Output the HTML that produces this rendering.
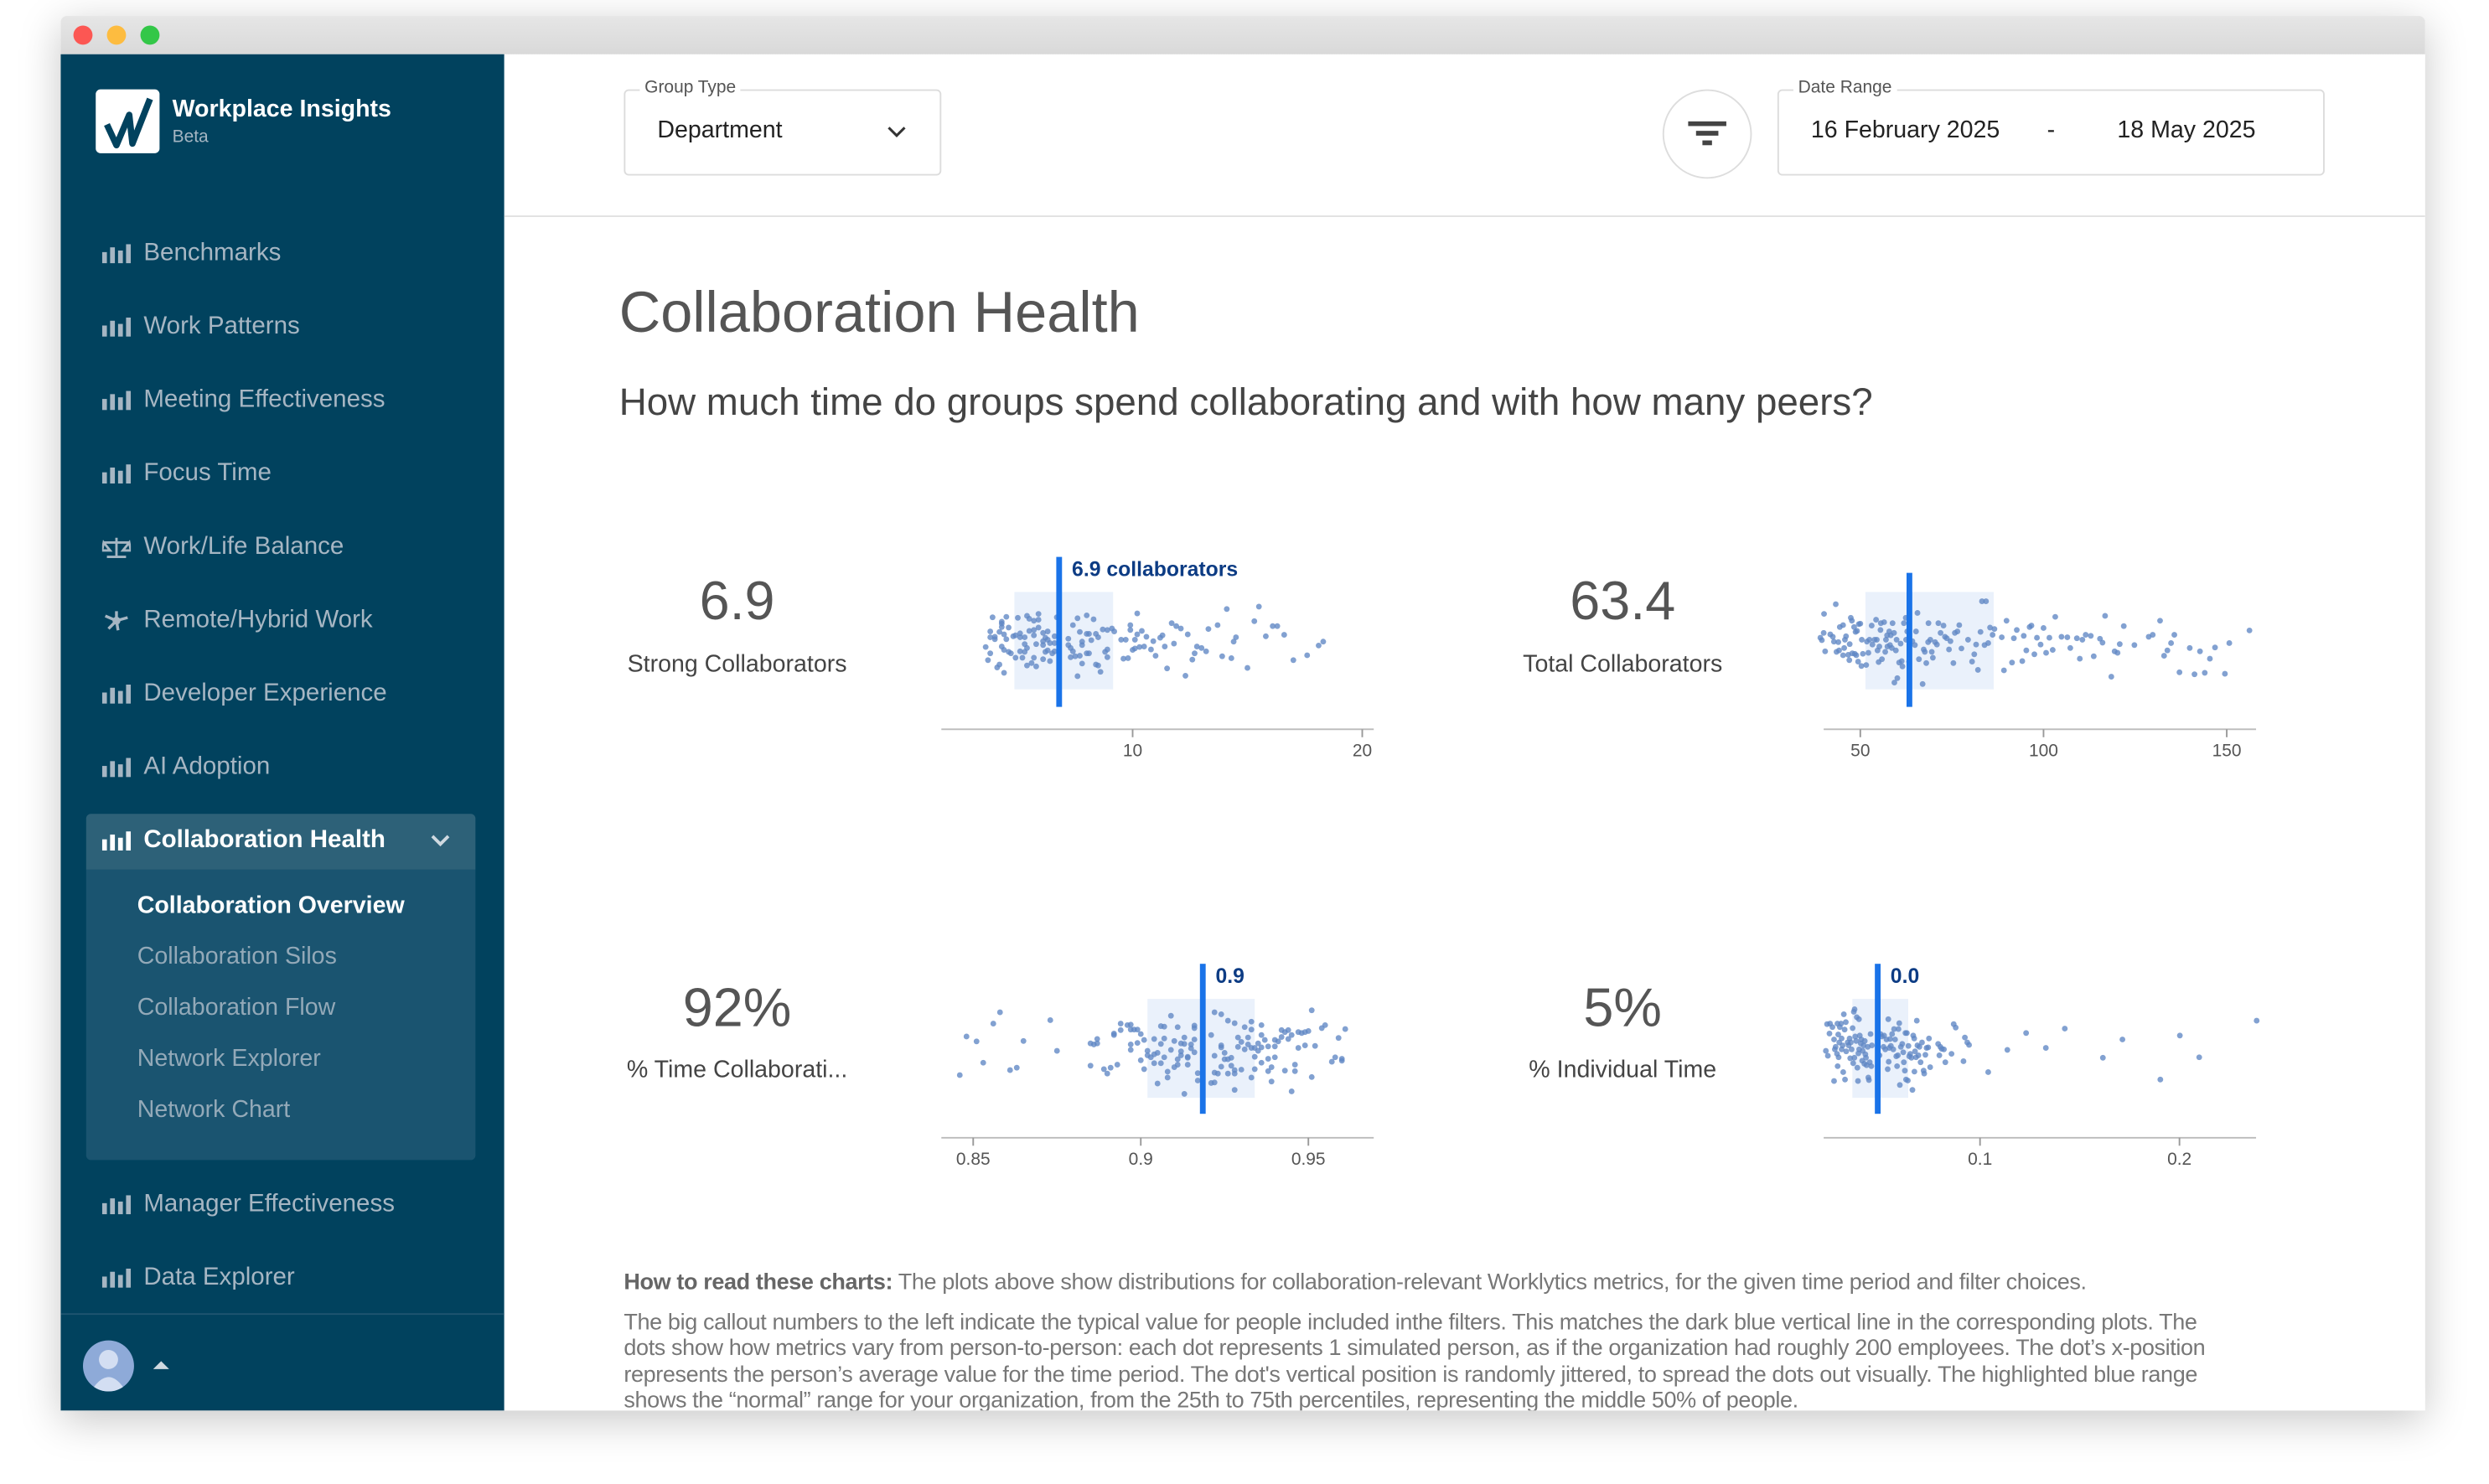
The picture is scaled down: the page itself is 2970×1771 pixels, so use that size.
<!DOCTYPE html>
<html><head><meta charset="utf-8">
<style>
html,body{margin:0;padding:0;background:#fff;}
body{width:2970px;height:1771px;overflow:hidden;position:relative;font-family:"Liberation Sans",Arial,sans-serif;}
#stage{position:absolute;left:0;top:0;width:1560px;height:930px;transform:scale(1.90385,1.90430);transform-origin:0 0;}
#win{position:absolute;left:38px;top:10px;width:1482px;height:874px;background:#fff;box-shadow:0 6px 26px rgba(0,0,0,0.22);border-radius:4px 4px 0 0;overflow:hidden;}
#titlebar{position:absolute;left:0;top:0;width:1482px;height:24px;background:linear-gradient(#e6e6e6,#d9d9d9);}
.tl{position:absolute;top:6px;width:12px;height:12px;border-radius:50%;}
#sidebar{position:absolute;left:0;top:24px;width:278px;height:850px;background:#01425e;}
.nav{position:absolute;left:26px;height:20px;font-size:15.5px;color:#a6b6c3;white-space:nowrap;display:flex;align-items:center;}
.nav svg{margin-right:8px;}
.sub{position:absolute;left:48px;font-size:15px;color:#93a9b8;white-space:nowrap;}
#main{position:absolute;left:278px;top:24px;width:1204px;height:850px;overflow:hidden;}
.box{position:absolute;border:1px solid #dcdcdc;border-radius:3px;}
.lbl{position:absolute;top:-8px;background:#fff;padding:0 3px;font-size:11px;color:#555;}
.big{position:absolute;font-size:34px;color:#555;text-align:center;width:200px;}
.cap{position:absolute;font-size:15px;color:#444;text-align:center;width:200px;white-space:nowrap;}
#help{position:absolute;left:75px;top:762px;font-size:14.2px;color:#777;white-space:nowrap;letter-spacing:-0.2px;}
#help p{margin:0;line-height:16.6px;}
</style></head>
<body>
<div id="stage">
<div id="win">
  <div id="titlebar">
    <div class="tl" style="left:8px;background:#fc5753;"></div>
    <div class="tl" style="left:29px;background:#fdbc40;"></div>
    <div class="tl" style="left:50px;background:#33c748;"></div>
  </div>
  <div id="sidebar">
    <div style="position:absolute;left:22px;top:22px;width:40px;height:40px;background:#fff;border-radius:3px;">
      <svg width="40" height="40" viewBox="0 0 40 40"><path d="M7 22 L13 35 L21 16 L23 34 L34 6" fill="none" stroke="#01425e" stroke-width="4" stroke-linejoin="round"/></svg>
    </div>
    <div style="position:absolute;left:70px;top:26px;font-size:15px;font-weight:bold;color:#fff;">Workplace Insights</div>
    <div style="position:absolute;left:70px;top:46px;font-size:11px;color:#a6b6c3;">Beta</div>

    <div class="nav" style="top:115px;"><svg width="18" height="12"><rect x="0" y="5" width="3" height="7" fill="#a6b6c3"/><rect x="5" y="2" width="3" height="10" fill="#a6b6c3"/><rect x="10" y="4" width="3" height="8" fill="#a6b6c3"/><rect x="15" y="0" width="3" height="12" fill="#a6b6c3"/></svg>Benchmarks</div>
    <div class="nav" style="top:161px;"><svg width="18" height="12"><rect x="0" y="5" width="3" height="7" fill="#a6b6c3"/><rect x="5" y="2" width="3" height="10" fill="#a6b6c3"/><rect x="10" y="4" width="3" height="8" fill="#a6b6c3"/><rect x="15" y="0" width="3" height="12" fill="#a6b6c3"/></svg>Work Patterns</div>
    <div class="nav" style="top:207px;"><svg width="18" height="12"><rect x="0" y="5" width="3" height="7" fill="#a6b6c3"/><rect x="5" y="2" width="3" height="10" fill="#a6b6c3"/><rect x="10" y="4" width="3" height="8" fill="#a6b6c3"/><rect x="15" y="0" width="3" height="12" fill="#a6b6c3"/></svg>Meeting Effectiveness</div>
    <div class="nav" style="top:253px;"><svg width="18" height="12"><rect x="0" y="5" width="3" height="7" fill="#a6b6c3"/><rect x="5" y="2" width="3" height="10" fill="#a6b6c3"/><rect x="10" y="4" width="3" height="8" fill="#a6b6c3"/><rect x="15" y="0" width="3" height="12" fill="#a6b6c3"/></svg>Focus Time</div>
    <div class="nav" style="top:299px;"><svg width="18" height="14"><path d="M9 1 V13 M3 13 H15 M1 4 H17 M1 4 L-0 9 H5 Z M17 4 L13 9 H18 Z" stroke="#a6b6c3" stroke-width="1.5" fill="none"/></svg>Work/Life Balance</div>
    <div class="nav" style="top:345px;"><svg width="18" height="14"><circle cx="9" cy="7" r="2.5" fill="#a6b6c3"/><path d="M9 7 L2 4 M9 7 L16 5 M9 7 L4 12 M9 7 L10 13 M9 7 L9 1" stroke="#a6b6c3" stroke-width="1.8"/></svg>Remote/Hybrid Work</div>
    <div class="nav" style="top:391px;"><svg width="18" height="12"><rect x="0" y="5" width="3" height="7" fill="#a6b6c3"/><rect x="5" y="2" width="3" height="10" fill="#a6b6c3"/><rect x="10" y="4" width="3" height="8" fill="#a6b6c3"/><rect x="15" y="0" width="3" height="12" fill="#a6b6c3"/></svg>Developer Experience</div>
    <div class="nav" style="top:437px;"><svg width="18" height="12"><rect x="0" y="5" width="3" height="7" fill="#a6b6c3"/><rect x="5" y="2" width="3" height="10" fill="#a6b6c3"/><rect x="10" y="4" width="3" height="8" fill="#a6b6c3"/><rect x="15" y="0" width="3" height="12" fill="#a6b6c3"/></svg>AI Adoption</div>

    <div style="position:absolute;left:16px;top:476px;width:244px;height:35px;background:#2d6178;border-radius:3px 3px 0 0;"></div>
    <div style="position:absolute;left:16px;top:511px;width:244px;height:182px;background:#1a5470;border-radius:0 0 3px 3px;"></div>
    <div class="nav" style="top:483px;color:#fff;font-weight:bold;"><svg width="18" height="12"><rect x="0" y="5" width="3" height="7" fill="#fff"/><rect x="5" y="2" width="3" height="10" fill="#fff"/><rect x="10" y="4" width="3" height="8" fill="#fff"/><rect x="15" y="0" width="3" height="12" fill="#fff"/></svg>Collaboration Health</div>
    <svg style="position:absolute;left:232px;top:489px;" width="12" height="8"><path d="M1 1 L6 6 L11 1" stroke="#cfd9e0" stroke-width="2" fill="none"/></svg>
    <div class="sub" style="top:525px;color:#fff;font-weight:bold;">Collaboration Overview</div>
    <div class="sub" style="top:557px;">Collaboration Silos</div>
    <div class="sub" style="top:589px;">Collaboration Flow</div>
    <div class="sub" style="top:621px;">Network Explorer</div>
    <div class="sub" style="top:653px;">Network Chart</div>

    <div class="nav" style="top:711px;"><svg width="18" height="12"><rect x="0" y="5" width="3" height="7" fill="#a6b6c3"/><rect x="5" y="2" width="3" height="10" fill="#a6b6c3"/><rect x="10" y="4" width="3" height="8" fill="#a6b6c3"/><rect x="15" y="0" width="3" height="12" fill="#a6b6c3"/></svg>Manager Effectiveness</div>
    <div class="nav" style="top:757px;"><svg width="18" height="12"><rect x="0" y="5" width="3" height="7" fill="#a6b6c3"/><rect x="5" y="2" width="3" height="10" fill="#a6b6c3"/><rect x="10" y="4" width="3" height="8" fill="#a6b6c3"/><rect x="15" y="0" width="3" height="12" fill="#a6b6c3"/></svg>Data Explorer</div>
    <div style="position:absolute;left:0;top:789px;width:278px;height:1px;background:#1f5570;"></div>
    <div style="position:absolute;left:14px;top:806px;width:32px;height:32px;border-radius:50%;background:#8eaad8;overflow:hidden;">
      <svg width="32" height="32"><circle cx="16" cy="12" r="6" fill="#d3def2"/><path d="M5 32 Q16 14 27 32 Z" fill="#d3def2"/></svg>
    </div>
    <svg style="position:absolute;left:58px;top:819px;" width="10" height="6"><path d="M0 5 L5 0 L10 5 Z" fill="#cfd9e0"/></svg>
  </div>

  <div id="main">
    <div class="box" style="left:75px;top:22px;width:197px;height:52px;">
      <span class="lbl" style="left:9px;">Group Type</span>
      <span style="position:absolute;left:20px;top:16px;font-size:15px;color:#222;">Department</span>
      <svg style="position:absolute;left:164px;top:22px;" width="12" height="8"><path d="M1 1 L6 6 L11 1" stroke="#333" stroke-width="1.6" fill="none"/></svg>
    </div>
    <div style="position:absolute;left:726px;top:22px;width:54px;height:54px;border:1px solid #ddd;border-radius:50%;">
      <svg style="position:absolute;left:15px;top:19px;" width="24" height="16"><rect x="0" y="0" width="24" height="3" fill="#444"/><rect x="5" y="6" width="14" height="3" fill="#444"/><rect x="9" y="12" width="6" height="3" fill="#444"/></svg>
    </div>
    <div class="box" style="left:798px;top:22px;width:341px;height:52px;">
      <span class="lbl" style="left:9px;">Date Range</span>
      <span style="position:absolute;left:20px;top:16px;font-size:15px;color:#222;">16 February 2025</span>
      <span style="position:absolute;left:168px;top:16px;font-size:15px;color:#222;">-</span>
      <span style="position:absolute;left:212px;top:16px;font-size:15px;color:#222;">18 May 2025</span>
    </div>
    <div style="position:absolute;left:0;top:101px;width:1204px;height:1px;background:#e2e2e2;"></div>

    <div style="position:absolute;left:72px;top:141px;font-size:36px;color:#555;">Collaboration Health</div>
    <div style="position:absolute;left:72px;top:205px;font-size:24px;color:#444;">How much time do groups spend collaborating and with how many peers?</div>

    <div class="big" style="left:46px;top:324px;">6.9</div>
    <div class="cap" style="left:46px;top:374px;">Strong Collaborators</div>
    <div class="big" style="left:601px;top:324px;">63.4</div>
    <div class="cap" style="left:601px;top:374px;">Total Collaborators</div>
    <div class="big" style="left:46px;top:579px;">92%</div>
    <div class="cap" style="left:46px;top:628px;">% Time Collaborati...</div>
    <div class="big" style="left:601px;top:579px;">5%</div>
    <div class="cap" style="left:601px;top:628px;">% Individual Time</div>

    <div id="help">
      <p style="margin-bottom:8px;"><b style="color:#666;">How to read these charts:</b> The plots above show distributions for collaboration-relevant Worklytics metrics, for the given time period and filter choices.</p>
      <p>The big callout numbers to the left indicate the typical value for people included inthe filters. This matches the dark blue vertical line in the corresponding plots. The</p>
      <p>dots show how metrics vary from person-to-person: each dot represents 1 simulated person, as if the organization had roughly 200 employees. The dot’s x-position</p>
      <p>represents the person’s average value for the time period. The dot's vertical position is randomly jittered, to spread the dots out visually. The highlighted blue range</p>
      <p>shows the “normal” range for your organization, from the 25th to 75th percentiles, representing the middle 50% of people.</p>
    </div>
  </div>
</div>
<svg id="charts" style="position:absolute;left:0;top:0;" width="1560" height="884"></svg>
</div>

<script>
// ---- chart data ----
const strongValues=[3.9,4.5,5.0,5.4,5.9,5.5,5.7,5.9,4.3,4.3,4.3,4.6,3.8,4.2,4.0,3.8,4.0,4.4,4.5,4.8,4.9,5.1,5.1,5.3,5.5,5.7,5.7,5.9,6.1,6.3,6.2,6.1,6.4,6.6,6.7,6.6,7.2,7.4,7.6,8.0,8.3,7.7,8.0,8.1,8.4,8.5,8.7,8.9,9.1,9.2,3.6,3.8,3.7,4.1,4.2,4.4,4.3,4.4,4.6,4.7,4.9,5.1,5.2,5.3,5.4,5.3,5.7,5.6,5.4,5.8,6.1,6.4,6.2,6.3,6.5,6.6,5.8,6.1,6.3,7.2,7.3,7.4,7.3,7.5,7.7,7.8,7.8,8.0,8.1,8.2,7.6,7.8,8.4,8.5,8.6,8.8,8.9,8.9,9.5,9.7,9.6,9.8,9.9,9.9,10.2,10.4,10.2,10.1,10.0,10.1,10.3,10.5,10.6,10.8,10.9,11.0,11.2,11.3,11.4,11.5,11.7,11.9,12.1,11.8,12.4,12.3,12.6,12.7,12.8,13.0,13.2,13.3,13.7,13.9,14.1,14.3,14.4,14.5,15.0,15.3,15.5,15.8,16.1,16.3,16.6,17.0,17.6,18.1,18.3];
const strongJitter=[-0.48,-0.49,-0.47,-0.51,-0.55,-0.45,-0.41,-0.43,-0.39,-0.35,-0.28,-0.27,-0.19,-0.18,-0.08,-0.07,-0.03,-0.13,-0.03,-0.09,-0.11,-0.07,-0.15,-0.07,-0.20,-0.22,-0.11,-0.27,-0.16,-0.19,-0.06,0.01,0.05,0.05,-0.48,-0.09,-0.04,-0.32,-0.46,-0.52,-0.44,-0.18,-0.14,-0.14,-0.14,-0.07,-0.23,-0.22,-0.25,-0.19,0.13,0.26,0.40,0.55,0.49,0.66,0.12,0.19,0.23,0.26,0.35,0.22,0.35,0.07,0.15,0.23,0.35,0.46,0.51,0.53,0.38,0.42,0.23,0.20,0.26,0.22,0.07,0.09,-0.02,0.09,0.15,0.22,0.34,0.32,0.31,0.09,0.02,0.26,0.26,-0.01,0.73,0.47,0.49,0.51,0.64,0.23,0.18,0.34,-0.02,-0.02,0.37,0.36,-0.32,-0.22,-0.56,-0.20,-0.13,-0.02,0.19,0.16,0.13,0.12,-0.08,0.18,0.01,0.31,-0.06,-0.11,0.12,0.57,-0.36,-0.30,-0.25,0.06,-0.13,0.72,0.39,0.26,0.12,0.15,0.22,-0.24,-0.32,0.32,-0.65,0.36,0.02,-0.07,0.56,-0.40,-0.70,-0.09,-0.30,-0.30,-0.12,0.40,0.30,0.10,0.02];

const totalValues=[39.1,39.5,40.0,40.1,40.4,41.8,42.5,42.8,43.3,43.5,44.0,44.2,44.4,45.3,45.3,45.6,45.8,46.1,46.7,47.0,47.1,47.4,47.7,47.8,48.3,48.5,48.7,48.9,49.1,49.4,49.6,50.0,50.3,50.4,50.7,51.6,51.8,52.2,52.5,53.1,53.3,53.9,54.3,54.5,54.7,55.0,55.2,55.5,55.6,55.9,56.5,56.8,57.0,57.3,57.4,57.9,58.1,58.3,58.6,58.8,59.2,59.3,59.7,59.9,60.1,60.6,61.0,61.3,61.5,61.9,62.4,62.5,62.8,63.3,64.2,64.9,65.2,65.6,66.0,67.0,67.3,67.6,68.0,68.5,68.6,69.1,69.5,69.8,70.4,70.9,71.3,71.9,72.7,73.1,73.6,74.2,74.6,75.4,75.8,76.5,77.0,77.6,79.4,80.5,81.1,81.6,82.1,82.8,83.9,84.3,83.2,84.9,85.4,86.1,86.6,88.6,89.2,89.9,91.4,91.9,92.7,94.2,94.6,95.3,96.2,96.7,97.5,98.2,99.2,100.0,100.7,101.6,102.5,103.2,104.9,106.5,107.3,109.1,109.9,110.6,111.5,112.9,113.7,115.4,116.1,116.8,118.5,119.4,120.2,120.8,121.9,124.8,128.7,129.8,131.8,132.9,133.8,134.8,135.7,137.1,139.9,141.2,142.7,144.0,145.4,146.8,149.5,150.7,156.2];
const totalJitter=[-0.06,-0.01,-0.16,-0.55,0.22,-0.13,-0.08,0.02,-0.75,0.23,0.03,0.20,-0.28,-0.32,0.30,0.15,-0.02,-0.09,0.29,0.40,0.07,-0.47,-0.41,0.26,-0.28,0.27,-0.18,0.30,-0.20,0.43,-0.34,-0.35,0.52,-0.02,0.27,0.50,0.02,0.25,-0.02,-0.31,0.08,-0.02,-0.43,-0.02,0.20,0.44,0.12,-0.22,-0.36,0.38,-0.38,0.23,-0.02,-0.11,0.12,-0.19,0.09,-0.11,0.15,-0.36,-0.16,0.86,0.20,-0.02,0.77,0.45,0.06,0.42,0.53,-0.36,-0.47,-0.02,-0.19,0.43,0.01,0.09,-0.19,-0.57,0.38,0.89,0.18,0.23,0.46,0.03,-0.36,-0.02,0.23,0.35,0.03,0.08,-0.36,-0.16,-0.31,-0.08,-0.05,0.18,0.01,0.46,-0.16,-0.19,-0.32,0.16,-0.02,0.43,0.28,0.08,0.60,-0.18,0.09,-0.81,-0.81,0.05,-0.27,-0.12,-0.24,-0.07,0.61,-0.41,0.45,-0.05,-0.22,0.42,-0.10,0.20,-0.28,-0.31,0.28,-0.06,0.08,-0.26,0.25,-0.06,0.19,-0.49,-0.08,-0.07,0.15,-0.05,0.37,-0.02,-0.12,-0.10,0.32,-0.04,0.04,-0.51,0.74,0.22,0.25,0.07,-0.30,0.09,-0.08,-0.12,-0.41,0.31,0.20,0.05,-0.12,0.65,0.15,0.69,0.22,0.66,0.37,0.14,0.68,0.05,-0.21];

const collabValues=[0.846,0.848,0.851,0.853,0.856,0.858,0.861,0.863,0.865,0.873,0.875,0.885,0.885,0.886,0.887,0.887,0.889,0.890,0.891,0.892,0.892,0.893,0.894,0.894,0.896,0.897,0.897,0.898,0.899,0.897,0.897,0.899,0.900,0.900,0.901,0.901,0.902,0.902,0.903,0.904,0.904,0.904,0.905,0.905,0.906,0.906,0.906,0.907,0.907,0.907,0.908,0.908,0.909,0.909,0.910,0.910,0.911,0.911,0.911,0.912,0.912,0.912,0.913,0.913,0.913,0.914,0.914,0.914,0.915,0.915,0.916,0.916,0.916,0.916,0.917,0.917,0.921,0.921,0.922,0.922,0.922,0.922,0.923,0.924,0.924,0.924,0.924,0.925,0.925,0.926,0.926,0.926,0.927,0.927,0.928,0.928,0.928,0.928,0.929,0.929,0.930,0.930,0.931,0.931,0.932,0.932,0.933,0.933,0.933,0.933,0.934,0.934,0.934,0.935,0.935,0.936,0.936,0.936,0.936,0.937,0.938,0.938,0.938,0.939,0.939,0.940,0.940,0.940,0.941,0.942,0.942,0.943,0.943,0.944,0.944,0.945,0.945,0.946,0.946,0.947,0.947,0.948,0.949,0.949,0.950,0.951,0.951,0.952,0.954,0.955,0.957,0.958,0.959,0.960,0.960,0.961];
const collabJitter=[0.54,-0.24,-0.14,0.29,-0.50,-0.73,0.44,0.39,-0.15,-0.57,0.05,0.35,-0.10,-0.08,-0.10,-0.19,0.42,0.51,0.39,-0.30,-0.27,0.33,-0.37,-0.50,-0.47,-0.48,-0.38,-0.38,-0.38,-0.08,0.03,-0.11,0.24,-0.29,-0.17,0.42,0.05,0.14,0.18,0.12,-0.19,0.30,0.71,0.09,-0.09,0.30,-0.45,-0.44,-0.20,0.18,0.59,0.47,-0.66,0.03,-0.15,0.38,-0.43,0.33,0.22,-0.10,0.06,0.14,0.92,-0.09,-0.22,0.33,0.17,0.19,0.00,-0.08,-0.18,0.08,-0.41,-0.46,0.65,0.50,-0.27,0.70,-0.73,0.69,0.15,0.49,0.51,-0.06,-0.02,0.37,-0.69,0.09,0.22,0.22,-0.56,0.51,0.35,0.19,0.84,0.51,-0.51,0.44,-0.03,-0.22,-0.13,0.43,0.02,-0.43,-0.08,-0.22,-0.01,0.59,-0.54,-0.38,0.42,0.17,-0.01,0.05,-0.10,0.29,-0.02,-0.47,-0.27,-0.17,-0.04,0.46,0.21,0.38,0.67,-0.04,-0.17,0.18,-0.14,-0.23,-0.37,-0.33,0.45,-0.37,-0.19,-0.27,0.87,0.46,0.33,-0.33,-0.01,-0.31,-0.33,-0.06,-0.35,-0.77,0.58,-0.05,-0.41,-0.47,0.27,0.18,-0.21,0.21,0.25,-0.39];

const individualValues=[0.0227,0.0233,0.0237,0.0245,0.0248,0.0260,0.0268,0.0268,0.0272,0.0276,0.0283,0.0285,0.0286,0.0289,0.0291,0.0294,0.0297,0.0303,0.0306,0.0306,0.0311,0.0314,0.0317,0.0321,0.0323,0.0327,0.0329,0.0336,0.0341,0.0346,0.0349,0.0352,0.0356,0.0361,0.0364,0.0367,0.0370,0.0371,0.0374,0.0379,0.0382,0.0385,0.0388,0.0390,0.0393,0.0394,0.0397,0.0402,0.0405,0.0409,0.0412,0.0416,0.0420,0.0422,0.0425,0.0428,0.0431,0.0437,0.0440,0.0443,0.0447,0.0451,0.0455,0.0458,0.0496,0.0501,0.0508,0.0516,0.0519,0.0525,0.0531,0.0537,0.0540,0.0542,0.0545,0.0549,0.0553,0.0559,0.0565,0.0569,0.0574,0.0580,0.0584,0.0588,0.0591,0.0595,0.0598,0.0603,0.0610,0.0615,0.0618,0.0623,0.0626,0.0629,0.0633,0.0638,0.0641,0.0645,0.0650,0.0656,0.0661,0.0665,0.0670,0.0671,0.0674,0.0679,0.0683,0.0686,0.0691,0.0696,0.0702,0.0709,0.0717,0.0720,0.0726,0.0732,0.0740,0.0744,0.0750,0.0790,0.0796,0.0801,0.0808,0.0819,0.0826,0.0857,0.0868,0.0878,0.0917,0.0924,0.0936,0.0945,0.1041,0.1137,0.1231,0.1330,0.1425,0.1616,0.1714,0.1904,0.2002,0.2099,0.2387];
const individualJitter=[0.05,-0.49,0.15,-0.30,-0.50,-0.43,-0.18,0.66,0.02,-0.03,0.11,-0.50,0.36,-0.28,0.18,-0.12,-0.43,-0.50,-0.20,0.02,-0.06,0.48,-0.69,-0.38,0.63,-0.53,0.06,-0.12,-0.06,-0.20,0.20,-0.12,0.02,-0.41,0.30,-0.74,0.19,-0.79,-0.24,-0.15,-0.63,0.39,0.66,0.10,-0.59,0.02,-0.26,-0.10,-0.18,0.25,0.05,-0.06,0.31,-0.15,0.12,0.19,0.34,-0.03,0.59,0.64,0.28,-0.29,0.36,-0.06,0.14,-0.29,-0.24,-0.03,-0.26,0.02,-0.18,0.42,-0.59,0.27,-0.01,-0.19,-0.05,-0.29,0.02,-0.39,-0.18,0.16,0.36,0.14,-0.39,-0.51,0.74,-0.03,-0.09,0.08,0.28,0.45,-0.31,0.63,-0.31,0.65,-0.05,0.16,0.11,0.19,0.84,-0.26,-0.20,0.47,0.06,0.18,-0.56,-0.06,0.14,-0.03,0.28,-0.12,0.45,0.51,0.13,-0.01,-0.02,-0.20,0.38,-0.09,0.14,-0.03,0.01,0.02,0.28,0.11,-0.49,-0.42,0.26,-0.22,-0.12,-0.07,0.48,0.03,-0.31,-0.01,-0.40,0.19,-0.18,0.63,-0.26,0.18,-0.56];

const medians=[6.8,63.4,0.9185,0.0487];
const bandLow=[4.85,51.4,0.902,0.036];
const bandHigh=[9.15,86.4,0.934,0.064];
const medianLabels=["6.9 collaborators","","0.9","0.0"];
const tickValues=[[10,20],[50,100,150],[0.85,0.9,0.95],[0.1,0.2]];
const tickLabels=[["10","20"],["50","100","150"],["0.85","0.9","0.95"],["0.1","0.2"]];
const domains=[[1.67,20.5],[40,158],[0.8405,0.9695],[0.0216,0.2384]];
const chartNames=["strong-collaborators","total-collaborators","time-collaborating","individual-time"];
const valueSets=[strongValues,totalValues,collabValues,individualValues];
const jitterSets=[strongJitter,totalJitter,collabJitter,individualJitter];

// ---- layout (display px) ----
const panels=[
 {x0:590,x1:861,axisY:457,bandTop:371,bandBot:432,lineTop:349,lineBot:443},
 {x0:1143,x1:1414,axisY:457,bandTop:371,bandBot:432,lineTop:359,lineBot:443},
 {x0:590,x1:861,axisY:713,bandTop:626,bandBot:688,lineTop:604,lineBot:698},
 {x0:1143,x1:1414,axisY:713,bandTop:626,bandBot:688,lineTop:604,lineBot:698}
];
const NS="http://www.w3.org/2000/svg";
const svg=document.getElementById('charts');
function mk(tag,attrs,parent){const e=document.createElementNS(NS,tag);for(const k in attrs)e.setAttribute(k,attrs[k]);(parent||svg).appendChild(e);return e;}

panels.forEach(function(p,i){
  const d=domains[i];
  const sx=function(v){return p.x0+(v-d[0])/(d[1]-d[0])*(p.x1-p.x0);};
  const cy=(p.bandTop+p.bandBot)/2, hh=(p.bandBot-p.bandTop)/2;
  const sy=function(j){return cy+j*hh;};
  const g=mk('g',{});
  
  
  const band=mk('rect',{x:sx(bandLow[i]),y:p.bandTop,width:sx(bandHigh[i])-sx(bandLow[i]),height:p.bandBot-p.bandTop,fill:'#eaf1fb'},g);
  
  
  const vals=valueSets[i], jit=jitterSets[i];
  const n=Math.min(vals.length,jit.length);
  for(let k=0;k<n;k++){
    const c=mk('circle',{cx:sx(vals[k]),cy:sy(jit[k]),r:1.8,fill:'#5f86c4','fill-opacity':0.78},g);
    
    
  }
  const ml=mk('rect',{x:sx(medians[i])-1.8,y:p.lineTop,width:3.6,height:p.lineBot-p.lineTop,fill:'#1a73e8'},g);
  
  
  if(medianLabels[i]){
    const t=mk('text',{x:sx(medians[i])+8,y:p.lineTop+12,'font-size':13,'font-weight':'bold',fill:'#0d3c84','font-family':'Liberation Sans, sans-serif'},g);
    t.textContent=medianLabels[i];
    
    
  }
  const ax=mk('line',{x1:p.x0,x2:p.x1,y1:p.axisY,y2:p.axisY,stroke:'#bbb','stroke-width':1},g);
  
  
  tickValues[i].forEach(function(tv,ti){
    const x=sx(tv);
    const tk=mk('line',{x1:x,x2:x,y1:p.axisY,y2:p.axisY+5,stroke:'#999','stroke-width':1},g);
    
    
    const tl=mk('text',{x:x,y:p.axisY+17,'font-size':11,fill:'#555','text-anchor':'middle','font-family':'Liberation Sans, sans-serif'},g);
    tl.textContent=tickLabels[i][ti];
    
    
  });
});
</script>
</body></html>
